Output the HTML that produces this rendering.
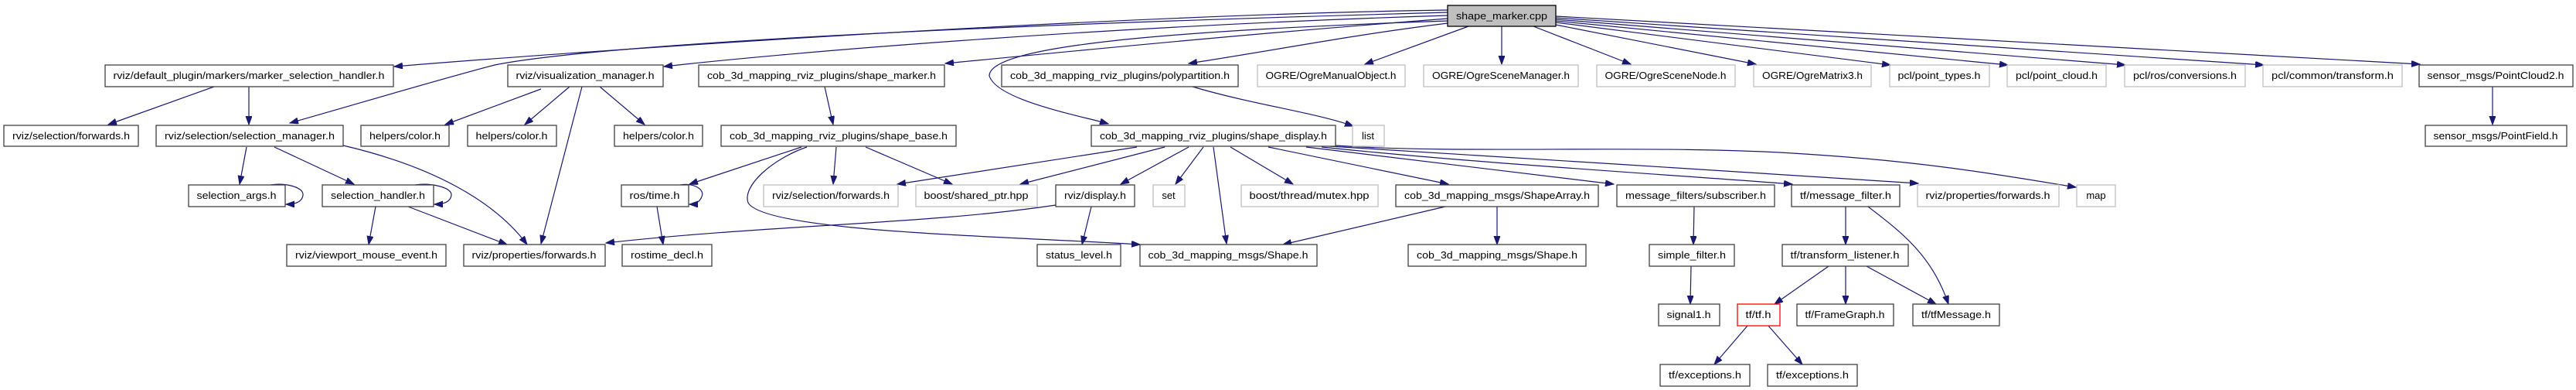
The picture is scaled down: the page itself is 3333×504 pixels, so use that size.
<!DOCTYPE html>
<html><head><meta charset="utf-8"><style>
html,body{margin:0;padding:0;background:#fff;}
svg{display:block;}
text{font-family:"Liberation Sans",sans-serif;font-size:13px;fill:#000;}
.b{fill:#fff;stroke:#404040;stroke-width:1.3;}
.g{fill:#fff;stroke:#bfbfbf;stroke-width:1.3;}
.r{fill:#fff;stroke:#ff0000;stroke-width:1.3;}
.e{fill:none;stroke:#191970;stroke-width:1.2;marker-end:url(#a);}
</style></head><body>
<svg width="3333" height="504" viewBox="0 0 3333 504" xmlns="http://www.w3.org/2000/svg">
<defs><marker id="a" markerUnits="userSpaceOnUse" markerWidth="12" markerHeight="10" refX="11" refY="4" orient="auto"><path d="M0,0 L11,4 L0,8 z" fill="#191970" stroke="#191970"/></marker></defs>

<!-- edges from root -->
<path class="e" d="M1873,13 C1400,20 700,70 510,86"/>
<path class="e" d="M1873,16 C1000,40 720,68 640,84 C560,105 460,135 375,159"/>
<path class="e" d="M1873,20 C1400,35 1000,70 859,86"/>
<path class="e" d="M1873,24 C1600,45 1400,65 1223,82"/>
<path class="e" d="M1873,30 C1750,45 1650,65 1538,82"/>
<path class="e" d="M1873,27 C1500,40 1280,60 1280,98 C1290,130 1400,150 1434,160"/>
<path class="e" d="M1900,34 L1766,83"/>
<path class="e" d="M1943,34 L1943,83"/>
<path class="e" d="M1984,34 L2110,83"/>
<path class="e" d="M2013,32 L2272,83"/>
<path class="e" d="M2013,29 L2446,84"/>
<path class="e" d="M2013,27 L2598,84"/>
<path class="e" d="M2013,25 L2750,84"/>
<path class="e" d="M2013,23 L2929,84"/>
<path class="e" d="M2013,21 L3131,83"/>

<!-- row1 edges -->
<path class="e" d="M277,112 L140,161"/>
<path class="e" d="M322,112 L322,161"/>
<path class="e" d="M700,115 L576,161"/>
<path class="e" d="M737,112 L679,161"/>
<path class="e" d="M776,112 L834,161"/>
<path class="e" d="M753,112 L700,315"/>
<path class="e" d="M1067,112 L1078,161"/>
<path class="e" d="M1543,112 C1620,135 1700,145 1751,163"/>
<path class="e" d="M3225,112 L3225,161"/>

<!-- shape_display edges -->
<path class="e" d="M1471,190 L1161,238"/>
<path class="e" d="M1507,190 L1320,238"/>
<path class="e" d="M1538,190 L1450,238"/>
<path class="e" d="M1557,190 L1521,238"/>
<path class="e" d="M1570,190 L1587,315"/>
<path class="e" d="M1592,190 L1673,238"/>
<path class="e" d="M1641,190 L1874,238"/>
<path class="e" d="M1690,190 L2088,238"/>
<path class="e" d="M1710,190 C1900,210 2150,225 2319,238"/>
<path class="e" d="M1720,189 C1950,205 2250,220 2482,237"/>
<path class="e" d="M1728,188 C1900,200 2150,185 2350,200 C2500,210 2600,228 2686,242"/>

<!-- shape_base edges -->
<path class="e" d="M1037,190 L892,238"/>
<path class="e" d="M1082,190 L1078,238"/>
<path class="e" d="M1120,190 L1232,238"/>
<path class="e" d="M1044,190 C1000,205 960,240 968,262 C990,300 1300,305 1475,316"/>

<!-- display.h -->
<path class="e" d="M1412,267 L1400,316"/>
<path class="e" d="M1366,265 C1200,290 1000,290 784,314"/>

<!-- ros/time -->
<path class="e" d="M850,267 L858,316"/>
<path class="e" d="M880,239 C900,236 912,246 908,254 C905,262 898,264 892,264"/>

<!-- selection manager -->
<path class="e" d="M319,190 L310,238"/>
<path class="e" d="M355,190 L458,238"/>
<path class="e" d="M444,188 C560,215 640,260 682,316"/>
<path class="e" d="M350,239 C370,236 393,242 392,252 C391,262 380,264 370,264"/>
<path class="e" d="M537,239 C557,236 585,242 584,252 C583,262 572,264 562,264"/>
<path class="e" d="M486,267 L477,316"/>
<path class="e" d="M528,267 L656,316"/>

<!-- ShapeArray -->
<path class="e" d="M1870,267 L1660,316"/>
<path class="e" d="M1937,267 L1937,316"/>

<!-- right cluster -->
<path class="e" d="M2192,267 L2191,316"/>
<path class="e" d="M2188,344 L2187,393"/>
<path class="e" d="M2388,267 L2388,316"/>
<path class="e" d="M2417,267 C2460,300 2500,330 2521,393"/>
<path class="e" d="M2366,344 L2296,393"/>
<path class="e" d="M2388,344 L2388,393"/>
<path class="e" d="M2415,344 L2505,393"/>
<path class="e" d="M2261,421 L2218,471"/>
<path class="e" d="M2288,421 L2332,471"/>

<!-- nodes -->
<rect x="1873" y="7" width="140" height="27" fill="#bfbfbf" stroke="#000" stroke-width="1.3"/>
<text x="1943" y="25" text-anchor="middle" textLength="118" lengthAdjust="spacingAndGlyphs">shape_marker.cpp</text>

<rect class="b" x="136" y="84" width="373" height="28"/><text x="322" y="102" text-anchor="middle" textLength="351" lengthAdjust="spacingAndGlyphs">rviz/default_plugin/markers/marker_selection_handler.h</text>
<rect class="b" x="657" y="84" width="201" height="28"/><text x="757" y="102" text-anchor="middle" textLength="179" lengthAdjust="spacingAndGlyphs">rviz/visualization_manager.h</text>
<rect class="b" x="904" y="84" width="318" height="28"/><text x="1063" y="102" text-anchor="middle" textLength="296" lengthAdjust="spacingAndGlyphs">cob_3d_mapping_rviz_plugins/shape_marker.h</text>
<rect class="b" x="1296" y="84" width="306" height="28"/><text x="1449" y="102" text-anchor="middle" textLength="284" lengthAdjust="spacingAndGlyphs">cob_3d_mapping_rviz_plugins/polypartition.h</text>
<rect class="g" x="1627" y="84" width="191" height="28"/><text x="1722" y="102" text-anchor="middle" textLength="169" lengthAdjust="spacingAndGlyphs">OGRE/OgreManualObject.h</text>
<rect class="g" x="1842" y="84" width="200" height="28"/><text x="1942" y="102" text-anchor="middle" textLength="178" lengthAdjust="spacingAndGlyphs">OGRE/OgreSceneManager.h</text>
<rect class="g" x="2066" y="84" width="179" height="28"/><text x="2155" y="102" text-anchor="middle" textLength="157" lengthAdjust="spacingAndGlyphs">OGRE/OgreSceneNode.h</text>
<rect class="g" x="2269" y="84" width="152" height="28"/><text x="2345" y="102" text-anchor="middle" textLength="130" lengthAdjust="spacingAndGlyphs">OGRE/OgreMatrix3.h</text>
<rect class="g" x="2445" y="84" width="129" height="28"/><text x="2509" y="102" text-anchor="middle" textLength="107" lengthAdjust="spacingAndGlyphs">pcl/point_types.h</text>
<rect class="g" x="2597" y="84" width="128" height="28"/><text x="2661" y="102" text-anchor="middle" textLength="106" lengthAdjust="spacingAndGlyphs">pcl/point_cloud.h</text>
<rect class="g" x="2749" y="84" width="156" height="28"/><text x="2827" y="102" text-anchor="middle" textLength="134" lengthAdjust="spacingAndGlyphs">pcl/ros/conversions.h</text>
<rect class="g" x="2928" y="84" width="180" height="28"/><text x="3018" y="102" text-anchor="middle" textLength="158" lengthAdjust="spacingAndGlyphs">pcl/common/transform.h</text>
<rect class="b" x="3130" y="84" width="199" height="28"/><text x="3229" y="102" text-anchor="middle" textLength="177" lengthAdjust="spacingAndGlyphs">sensor_msgs/PointCloud2.h</text>

<rect class="b" x="5" y="162" width="174" height="27"/><text x="92" y="180" text-anchor="middle" textLength="152" lengthAdjust="spacingAndGlyphs">rviz/selection/forwards.h</text>
<rect class="b" x="202" y="162" width="242" height="27"/><text x="323" y="180" text-anchor="middle" textLength="220" lengthAdjust="spacingAndGlyphs">rviz/selection/selection_manager.h</text>
<rect class="b" x="467" y="162" width="114" height="27"/><text x="524" y="180" text-anchor="middle" textLength="92" lengthAdjust="spacingAndGlyphs">helpers/color.h</text>
<rect class="b" x="605" y="162" width="115" height="27"/><text x="662" y="180" text-anchor="middle" textLength="93" lengthAdjust="spacingAndGlyphs">helpers/color.h</text>
<rect class="b" x="795" y="162" width="114" height="27"/><text x="852" y="180" text-anchor="middle" textLength="92" lengthAdjust="spacingAndGlyphs">helpers/color.h</text>
<rect class="b" x="933" y="162" width="304" height="27"/><text x="1085" y="180" text-anchor="middle" textLength="282" lengthAdjust="spacingAndGlyphs">cob_3d_mapping_rviz_plugins/shape_base.h</text>
<rect class="b" x="1412" y="162" width="316" height="27"/><text x="1570" y="180" text-anchor="middle" textLength="294" lengthAdjust="spacingAndGlyphs">cob_3d_mapping_rviz_plugins/shape_display.h</text>
<rect class="g" x="1750" y="162" width="41" height="27"/><text x="1770" y="180" text-anchor="middle">list</text>
<rect class="b" x="3138" y="162" width="183" height="27"/><text x="3229" y="180" text-anchor="middle" textLength="161" lengthAdjust="spacingAndGlyphs">sensor_msgs/PointField.h</text>

<rect class="b" x="244" y="239" width="125" height="28"/><text x="306" y="257" text-anchor="middle" textLength="103" lengthAdjust="spacingAndGlyphs">selection_args.h</text>
<rect class="b" x="417" y="239" width="144" height="28"/><text x="489" y="257" text-anchor="middle" textLength="122" lengthAdjust="spacingAndGlyphs">selection_handler.h</text>
<rect class="b" x="804" y="239" width="87" height="28"/><text x="847" y="257" text-anchor="middle" textLength="65" lengthAdjust="spacingAndGlyphs">ros/time.h</text>
<rect class="g" x="988" y="239" width="174" height="28"/><text x="1075" y="257" text-anchor="middle" textLength="152" lengthAdjust="spacingAndGlyphs">rviz/selection/forwards.h</text>
<rect class="g" x="1185" y="239" width="157" height="28"/><text x="1263" y="257" text-anchor="middle" textLength="135" lengthAdjust="spacingAndGlyphs">boost/shared_ptr.hpp</text>
<rect class="b" x="1366" y="239" width="102" height="28"/><text x="1417" y="257" text-anchor="middle" textLength="80" lengthAdjust="spacingAndGlyphs">rviz/display.h</text>
<rect class="g" x="1492" y="239" width="41" height="28"/><text x="1512" y="257" text-anchor="middle">set</text>
<rect class="g" x="1606" y="239" width="177" height="28"/><text x="1694" y="257" text-anchor="middle" textLength="155" lengthAdjust="spacingAndGlyphs">boost/thread/mutex.hpp</text>
<rect class="b" x="1806" y="239" width="262" height="28"/><text x="1937" y="257" text-anchor="middle" textLength="240" lengthAdjust="spacingAndGlyphs">cob_3d_mapping_msgs/ShapeArray.h</text>
<rect class="b" x="2092" y="239" width="204" height="28"/><text x="2194" y="257" text-anchor="middle" textLength="182" lengthAdjust="spacingAndGlyphs">message_filters/subscriber.h</text>
<rect class="b" x="2318" y="239" width="140" height="28"/><text x="2388" y="257" text-anchor="middle" textLength="118" lengthAdjust="spacingAndGlyphs">tf/message_filter.h</text>
<rect class="g" x="2481" y="239" width="183" height="28"/><text x="2572" y="257" text-anchor="middle" textLength="161" lengthAdjust="spacingAndGlyphs">rviz/properties/forwards.h</text>
<rect class="g" x="2687" y="239" width="50" height="28"/><text x="2712" y="257" text-anchor="middle">map</text>

<rect class="b" x="371" y="316" width="206" height="28"/><text x="474" y="334" text-anchor="middle" textLength="184" lengthAdjust="spacingAndGlyphs">rviz/viewport_mouse_event.h</text>
<rect class="b" x="600" y="316" width="183" height="28"/><text x="691" y="334" text-anchor="middle" textLength="161" lengthAdjust="spacingAndGlyphs">rviz/properties/forwards.h</text>
<rect class="b" x="805" y="316" width="116" height="28"/><text x="863" y="334" text-anchor="middle" textLength="94" lengthAdjust="spacingAndGlyphs">rostime_decl.h</text>
<rect class="b" x="1342" y="316" width="108" height="28"/><text x="1396" y="334" text-anchor="middle" textLength="86" lengthAdjust="spacingAndGlyphs">status_level.h</text>
<rect class="b" x="1475" y="316" width="229" height="28"/><text x="1589" y="334" text-anchor="middle" textLength="207" lengthAdjust="spacingAndGlyphs">cob_3d_mapping_msgs/Shape.h</text>
<rect class="b" x="1822" y="316" width="230" height="28"/><text x="1937" y="334" text-anchor="middle" textLength="208" lengthAdjust="spacingAndGlyphs">cob_3d_mapping_msgs/Shape.h</text>
<rect class="b" x="2134" y="316" width="110" height="28"/><text x="2189" y="334" text-anchor="middle" textLength="88" lengthAdjust="spacingAndGlyphs">simple_filter.h</text>
<rect class="b" x="2306" y="316" width="163" height="28"/><text x="2387" y="334" text-anchor="middle" textLength="141" lengthAdjust="spacingAndGlyphs">tf/transform_listener.h</text>

<rect class="b" x="2146" y="393" width="79" height="28"/><text x="2185" y="411" text-anchor="middle" textLength="57" lengthAdjust="spacingAndGlyphs">signal1.h</text>
<rect class="r" x="2248" y="393" width="55" height="28"/><text x="2275" y="411" text-anchor="middle" textLength="33" lengthAdjust="spacingAndGlyphs">tf/tf.h</text>
<rect class="b" x="2325" y="393" width="125" height="28"/><text x="2387" y="411" text-anchor="middle" textLength="103" lengthAdjust="spacingAndGlyphs">tf/FrameGraph.h</text>
<rect class="b" x="2475" y="393" width="112" height="28"/><text x="2531" y="411" text-anchor="middle" textLength="90" lengthAdjust="spacingAndGlyphs">tf/tfMessage.h</text>

<rect class="b" x="2148" y="471" width="116" height="28"/><text x="2206" y="489" text-anchor="middle" textLength="94" lengthAdjust="spacingAndGlyphs">tf/exceptions.h</text>
<rect class="b" x="2287" y="471" width="116" height="28"/><text x="2345" y="489" text-anchor="middle" textLength="94" lengthAdjust="spacingAndGlyphs">tf/exceptions.h</text>
</svg>
</body></html>
